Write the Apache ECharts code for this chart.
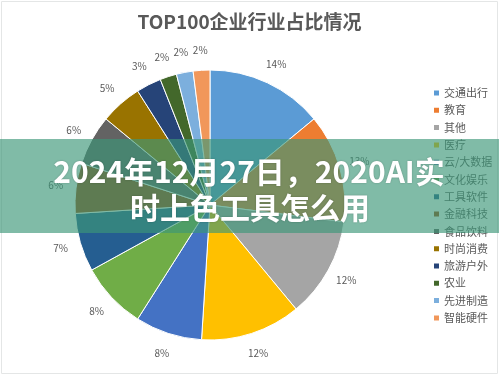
<!doctype html>
<html>
    <head>
        <meta charset="utf-8">
        <title>TOP100企业行业占比情况</title>
        <style>
            html, body { margin: 0; padding: 0; background: #fff; }
            #main { width: 499px; height: 375px; }
        </style>
    </head>
    <body>
        <div id="main"></div>
        <script src="https://cdn.jsdelivr.net/npm/echarts@6/dist/echarts.min.js"></script>
        <script>
            // industries, in legend / slice order (clockwise from 12 o'clock)
            var industries = ['交通出行', '教育', '其他', '医疗', '云/大数据', '文化娱乐', '工具软件',
                '金融科技', '食品饮料', '时尚消费', '旅游户外', '农业', '先进制造', '智能硬件'];
            // share of the TOP100, in percent
            var shares = [14, 13, 12, 12, 8, 8, 7, 6, 6, 5, 3, 2, 2, 2];
            var colors = ['#5b9bd5', '#ed7d31', '#a5a5a5', '#ffc000', '#4472c4', '#70ad47', '#255e91',
                '#9e480e', '#636363', '#997300', '#264478', '#43682b', '#7cafdd', '#f1975a'];

            var titleText = 'TOP100企业行业占比情况';
            var bannerLines = ['2024年12月27日，2020AI实', '时上色工具怎么用'];

            var font = '"Noto Sans CJK SC", "Noto Sans", sans-serif';
            var grey = '#595959';

            var chart = echarts.init(document.getElementById('main'));

            var pieData = industries.map(function (name, i) {
                return { name: name, value: shares[i], itemStyle: { color: colors[i] } };
            });

            // invisible ring only used to hold the centred percentage labels
            var labelData = industries.map(function (name, i) {
                return { name: name, value: shares[i] };
            });

            function bannerText(text, x, y) {
                return {
                    type: 'text',
                    x: x,
                    y: y,
                    style: {
                        text: text,
                        fontFamily: font,
                        fontSize: 30,
                        fontWeight: 'bold',
                        fill: '#fff',
                        align: 'center',
                        verticalAlign: 'middle',
                        textShadowColor: 'rgba(0,0,0,0.25)',
                        textShadowBlur: 2
                    },
                    silent: true,
                    z: 101
                };
            }

            chart.setOption({
                animation: false,
                title: {
                    text: titleText,
                    left: 'center',
                    top: 7,
                    textStyle: {
                        fontFamily: font,
                        fontSize: 19,
                        fontWeight: 'bold',
                        color: grey
                    }
                },
                legend: {
                    orient: 'vertical',
                    left: 427,
                    top: 82,
                    icon: 'rect',
                    itemWidth: 7,
                    itemHeight: 7,
                    itemGap: 5.3,
                    data: industries,
                    textStyle: {
                        fontFamily: font,
                        fontSize: 11,
                        lineHeight: 12,
                        color: grey,
                        padding: [0, 0, 0, -1]
                    }
                },
                series: [{
                    type: 'pie',
                    center: [210, 205],
                    radius: [0, 135],
                    startAngle: 90,
                    clockwise: true,
                    silent: true,
                    itemStyle: { borderColor: '#fff', borderWidth: 1 },
                    label: { show: false },
                    labelLine: { show: false },
                    data: pieData
                }, {
                    type: 'pie',
                    center: [210, 205],
                    radius: [137, 168],
                    startAngle: 90,
                    clockwise: true,
                    silent: true,
                    itemStyle: { color: 'rgba(0,0,0,0)' },
                    label: {
                        show: true,
                        position: 'inside',
                        formatter: '{c}%',
                        fontFamily: font,
                        fontSize: 10,
                        color: grey
                    },
                    labelLine: { show: false },
                    data: labelData
                }],
                graphic: [{
                    type: 'rect',
                    shape: { x: 1.5, y: 1.5, width: 496, height: 372 },
                    style: { fill: null, stroke: '#e4e6e6', lineWidth: 1 },
                    silent: true,
                    z: 100
                }, {
                    type: 'rect',
                    shape: { x: 0, y: 139, width: 499, height: 94 },
                    style: { fill: 'rgba(60,150,120,0.65)' },
                    silent: true,
                    z: 100
                },
                bannerText(bannerLines[0], 249, 172),
                bannerText(bannerLines[1], 250, 208)]
            });

            window.addEventListener('resize', function () {
                chart.resize();
            });
        </script>
    </body>
</html>
